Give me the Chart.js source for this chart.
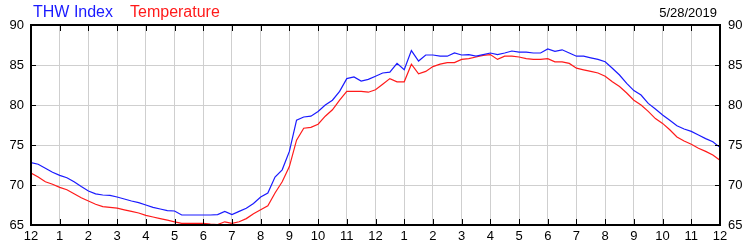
<!DOCTYPE html>
<html>
<head>
<meta charset="utf-8">
<script src="https://cdn.jsdelivr.net/npm/chart.js@4"></script>
<style>
    html, body { margin: 0; padding: 0; background: #fff; }
    #wrap { position: relative; width: 750px; height: 250px; font-family: Arial, "Liberation Sans", sans-serif; }
    .lbl { position: absolute; line-height: 16px; white-space: nowrap; }
</style>
</head>
<body>
<div id="wrap">
    <span class="lbl" style="left:33px; top:4px; font-size:16px; color:#1a1aff;">THW Index</span>
    <span class="lbl" style="left:130px; top:4px; font-size:16px; color:#ff1a1a;">Temperature</span>
    <span class="lbl" style="right:33px; top:5px; font-size:13px; color:#000;">5/28/2019</span>
    <canvas id="chart" width="750" height="250"></canvas>
</div>
<script>
// tick labels along the bottom (one per hour, midnight to midnight)
const hourLabels = ['12', '1', '2', '3', '4', '5', '6', '7', '8', '9', '10', '11',
    '12', '1', '2', '3', '4', '5', '6', '7', '8', '9', '10', '11', '12'];

// readings every 15 minutes, starting at midnight
const thwIndex = [
    72.8, 72.6, 72.1, 71.6,
    71.2, 70.9, 70.4, 69.8,
    69.25, 68.9, 68.75, 68.7,
    68.5, 68.25, 68.0, 67.8,
    67.5, 67.2, 67.0, 66.8,
    66.75, 66.25, 66.25, 66.25,
    66.25, 66.25, 66.3, 66.7,
    66.3, 66.7, 67.1, 67.7,
    68.5, 69.0, 71.0, 71.9,
    74.2, 78.1, 78.5, 78.6,
    79.2, 80.0, 80.6, 81.7,
    83.3, 83.5, 83.0, 83.2,
    83.6, 84.0, 84.1, 85.2,
    84.4, 86.8, 85.5, 86.25,
    86.25, 86.1, 86.1, 86.5,
    86.25, 86.3, 86.1, 86.3,
    86.5, 86.3, 86.5, 86.75,
    86.6, 86.6, 86.5, 86.5,
    87.0, 86.7, 86.9, 86.5,
    86.1, 86.1, 85.9, 85.7,
    85.4, 84.6, 83.75, 82.7,
    81.8, 81.25, 80.2, 79.5,
    78.75, 78.1, 77.4, 77.0,
    76.7, 76.25, 75.8, 75.4,
    74.7
];

const temperature = [
    71.5, 71.0, 70.4, 70.1,
    69.7, 69.4, 68.9, 68.4,
    68.0, 67.6, 67.3, 67.2,
    67.1, 66.9, 66.7, 66.5,
    66.2, 66.0, 65.8, 65.6,
    65.4, 65.2, 65.2, 65.2,
    65.2, 65.1, 65.05, 65.4,
    65.2, 65.4, 65.8, 66.4,
    66.9, 67.4, 69.0, 70.4,
    72.3, 75.6, 77.1, 77.2,
    77.6, 78.6, 79.4, 80.6,
    81.7, 81.7, 81.7, 81.6,
    81.9, 82.6, 83.3, 82.9,
    82.9, 85.1, 83.9, 84.2,
    84.8, 85.1, 85.3, 85.3,
    85.7, 85.8, 86.0, 86.2,
    86.3, 85.7, 86.1, 86.1,
    86.0, 85.8, 85.7, 85.7,
    85.8, 85.4, 85.4, 85.2,
    84.6, 84.4, 84.2, 84.0,
    83.6, 82.9, 82.3, 81.5,
    80.6, 80.0, 79.2, 78.3,
    77.7, 76.9, 76.0, 75.5,
    75.1, 74.6, 74.2, 73.75,
    73.1
];

const yMin = 65;
const yMax = 90;

// each reading is a quarter hour after the previous one
function toPoints(values) {
    return values.map((v, i) => ({ x: i / 4, y: v }));
}

const font = { family: 'Arial, "Liberation Sans", sans-serif', size: 13 };
const gridGray = '#cfcfcf';

// black frame plus short inward tick marks on all four sides
const framePlugin = {
    id: 'frame',
    afterDatasetsDraw(chart) {
        const { ctx, chartArea: a, scales } = chart;
        ctx.save();
        ctx.strokeStyle = '#000';
        ctx.lineWidth = 1;
        ctx.beginPath();
        for (let h = 0; h < hourLabels.length; h++) {
            const x = Math.round(scales.x.getPixelForValue(h)) + 0.5;
            ctx.moveTo(x, a.top);
            ctx.lineTo(x, a.top + 6);
            ctx.moveTo(x, a.bottom);
            ctx.lineTo(x, a.bottom - 6);
        }
        for (let v = yMin; v <= yMax; v += 5) {
            const y = Math.round(scales.y.getPixelForValue(v)) + 0.5;
            ctx.moveTo(a.left, y);
            ctx.lineTo(a.left + 5, y);
            ctx.moveTo(a.right, y);
            ctx.lineTo(a.right - 5, y);
        }
        ctx.stroke();
        ctx.lineWidth = 2;
        ctx.strokeRect(a.left, a.top, a.right - a.left, a.bottom - a.top);
        ctx.restore();
    }
};

new Chart(document.getElementById('chart').getContext('2d'), {
    type: 'line',
    data: {
        datasets: [
            { label: 'THW Index', data: toPoints(thwIndex), borderColor: '#1a1aff', borderWidth: 1.2, pointRadius: 0, tension: 0 },
            { label: 'Temperature', data: toPoints(temperature), borderColor: '#ff1a1a', borderWidth: 1.2, pointRadius: 0, tension: 0 }
        ]
    },
    options: {
        responsive: false,
        animation: false,
        events: [],
        layout: { padding: { top: 25 } },
        plugins: { legend: { display: false }, tooltip: { enabled: false } },
        scales: {
            x: {
                type: 'linear',
                min: 0,
                max: 24,
                grid: { color: gridGray, drawTicks: false },
                border: { display: false },
                ticks: {
                    stepSize: 1,
                    autoSkip: false,
                    maxRotation: 0,
                    padding: 4,
                    color: '#000',
                    font: font,
                    callback: (value) => hourLabels[value]
                },
                afterFit: (scale) => { scale.height = 25; }
            },
            y: {
                position: 'left',
                min: yMin,
                max: yMax,
                grid: { color: gridGray, drawTicks: false },
                border: { display: false },
                ticks: { stepSize: 5, padding: 7, color: '#000', font: font },
                afterFit: (scale) => { scale.width = 31; }
            },
            y2: {
                position: 'right',
                min: yMin,
                max: yMax,
                grid: { display: false, drawTicks: false },
                border: { display: false },
                ticks: { stepSize: 5, padding: 8, color: '#000', font: font },
                afterFit: (scale) => { scale.width = 30; }
            }
        }
    },
    plugins: [framePlugin]
});
</script>
</body>
</html>
